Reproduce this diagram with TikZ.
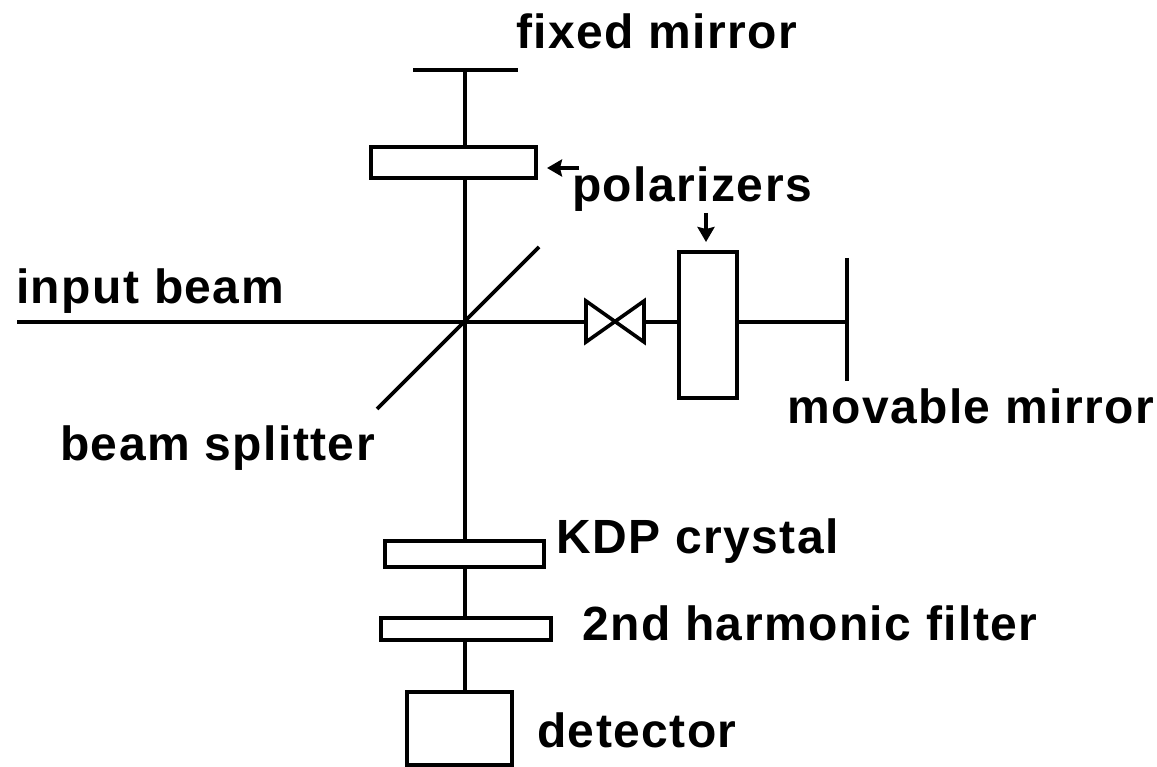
\documentclass[tikz,border=0pt]{standalone}
\usepackage{fontspec}
\setmainfont{Liberation Sans}
\usetikzlibrary{arrows.meta}
\tikzset{
  beam/.style={line width=3.6pt,black},
  lbl/.style={font=\fontsize{48}{54}\selectfont\bfseries\addfontfeature{LetterSpace=3},inner sep=0pt,anchor=base west,text=black},
  pointer/.style={line width=3.6pt,-{Stealth[length=15pt,width=17pt,inset=2pt]}}
}
\begin{document}
\begin{tikzpicture}[x=1pt,y=-1pt]
  \useasboundingbox (0,0) rectangle (1157,767);

  % beam lines
  \coordinate (inputend) at (17,322);
  \coordinate (split) at (465,322);
  \coordinate (fixedm) at (465,70);
  \coordinate (movem) at (847,322);
  \coordinate (det) at (465,692);
  \draw[beam] (inputend) -- (movem);
  \draw[beam] (fixedm) -- (det);

  % mirrors
  \draw[beam] (413,70) -- (518,70);
  \draw[beam] (847,258) -- (847,381);
  \draw[beam] (377,409) -- (539,247);

  % polarizers
  \draw[beam,fill=white] (371,147) rectangle (536,178);
  \draw[beam,fill=white] (679,252) rectangle (737,398);

  % compensator
  \draw[beam,fill=white] (586,301) -- (644,342) -- (644,301) -- (586,342) -- cycle;

  % crystal, filter, detector
  \draw[beam,fill=white] (385,541) rectangle (544,567);
  \draw[beam,fill=white] (381,618) rectangle (551,640);
  \draw[beam,fill=white] (407,692) rectangle (512,765);

  % pointers
  \draw[pointer] (579,168) -- (547,168);
  \draw[pointer] (706,213) -- (706,242);

  % labels
  \node[lbl] at (516,49) {fixed mirror};
  \node[lbl] at (572,202) {polarizers};
  \node[lbl] at (16,304) {input beam};
  \node[lbl] at (787,423) {movable mirror};
  \node[lbl] at (60,460) {beam splitter};
  \node[lbl] at (556,553) {KDP crystal};
  \node[lbl] at (582,640) {2nd harmonic filter};
  \node[lbl] at (537,747) {detector};
\end{tikzpicture}
\end{document}
